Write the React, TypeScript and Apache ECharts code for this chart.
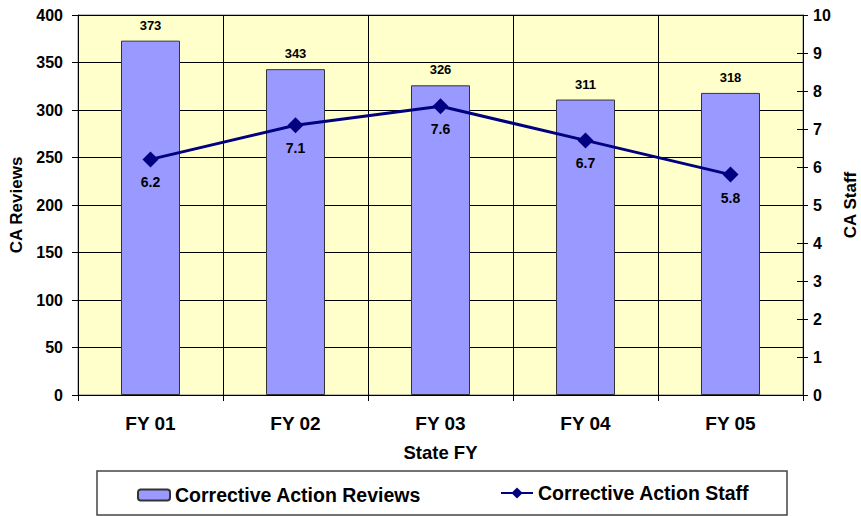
import React, { useEffect, useRef } from "react";
import * as echarts from "echarts";

const categories = ["FY 01", "FY 02", "FY 03", "FY 04", "FY 05"];
const reviews = [373, 343, 326, 311, 318];
const staff = [6.2, 7.1, 7.6, 6.7, 5.8];
const reviewsName = "Corrective Action Reviews";
const staffName = "Corrective Action Staff";

const FONT = "'Liberation Sans', Arial, sans-serif";

export default function App() {
  const ref = useRef<HTMLDivElement>(null);
  useEffect(() => {
    if (!ref.current) return;
    const chart = echarts.init(ref.current, undefined, { renderer: "svg" });
    const option: any = {
      animation: false,
      textStyle: { fontFamily: FONT, color: "#000" },
      grid: {
        left: 78,
        right: 58,
        top: 15,
        bottom: 121,
        containLabel: false,
        outerBoundsMode: "none",
        show: true,
        backgroundColor: "#FFFFCC",
        borderColor: "#808080",
        borderWidth: 1,
      },
      graphic: [
        {
          type: "rect",
          shape: { x: 97, y: 471, width: 690, height: 44 },
          style: { fill: "#fff", stroke: "#444", lineWidth: 1.5 },
          z: -1,
        },
      ],
      legend: [
        {
          data: [reviewsName],
          left: 137,
          top: 485,
          padding: 0,
          itemWidth: 32,
          itemHeight: 11,
          textStyle: { fontFamily: FONT, fontSize: 19.5, fontWeight: "bold", color: "#000" },
        },
        {
          data: [staffName],
          left: 500,
          top: 483,
          padding: 0,
          itemWidth: 32,
          itemHeight: 14,
          textStyle: { fontFamily: FONT, fontSize: 19.5, fontWeight: "bold", color: "#000" },
        },
      ],
      xAxis: {
        type: "category",
        data: categories,
        name: "State FY",
        nameLocation: "middle",
        nameGap: 48,
        nameTextStyle: { fontFamily: FONT, fontSize: 18.5, fontWeight: "bold", color: "#000" },
        axisLine: { lineStyle: { color: "#000", width: 1 } },
        axisTick: { show: true, length: 6, lineStyle: { color: "#000" } },
        axisLabel: { fontFamily: FONT, fontSize: 19, fontWeight: "bold", color: "#000", margin: 19 },
        splitLine: { show: true, lineStyle: { color: "#000", width: 1 } },
      },
      yAxis: [
        {
          type: "value",
          min: 0,
          max: 400,
          interval: 50,
          position: "left",
          name: "CA Reviews",
          nameLocation: "middle",
          nameRotate: 90,
          nameGap: 52,
          nameTextStyle: { fontFamily: FONT, fontSize: 17, fontWeight: "bold", color: "#000" },
          axisLine: { show: true, lineStyle: { color: "#000", width: 1 } },
          axisTick: { show: true, length: 6, lineStyle: { color: "#000" } },
          axisLabel: { fontFamily: FONT, fontSize: 16, fontWeight: "bold", color: "#000", margin: 15 },
          splitLine: { show: true, lineStyle: { color: "#000", width: 1 } },
        },
        {
          type: "value",
          min: 0,
          max: 10,
          interval: 1,
          position: "right",
          name: "CA Staff",
          nameLocation: "middle",
          nameRotate: 90,
          nameGap: 39,
          nameTextStyle: { fontFamily: FONT, fontSize: 17, fontWeight: "bold", color: "#000" },
          axisLine: { show: true, lineStyle: { color: "#000", width: 1 } },
          axisTick: { show: true, length: 5, lineStyle: { color: "#000" } },
          axisLabel: { fontFamily: FONT, fontSize: 16, fontWeight: "bold", color: "#000", margin: 10 },
          splitLine: { show: false },
        },
        {
          type: "value",
          min: 0,
          max: 10,
          interval: 1,
          position: "right",
          axisLine: { show: false },
          axisTick: { show: true, inside: true, length: 6, lineStyle: { color: "#000" } },
          axisLabel: { show: false },
          splitLine: { show: false },
        },
      ],
      series: [
        {
          name: reviewsName,
          type: "bar",
          data: reviews,
          yAxisIndex: 0,
          barWidth: 59,
          itemStyle: { color: "#9999FF", borderColor: "#333", borderWidth: 1 },
          label: {
            show: true,
            position: "top",
            distance: 9,
            fontFamily: FONT,
            fontSize: 13,
            fontWeight: "bold",
            color: "#000",
          },
          z: 2,
        },
        {
          name: staffName,
          type: "line",
          data: staff,
          yAxisIndex: 1,
          symbol: "diamond",
          symbolSize: 16,
          lineStyle: { color: "#000080", width: 3 },
          itemStyle: { color: "#000080" },
          label: {
            show: true,
            position: "bottom",
            distance: 8,
            fontFamily: FONT,
            fontSize: 14,
            fontWeight: "bold",
            color: "#000",
          },
          z: 3,
        },
      ],
    };
    chart.setOption(option);
    return () => chart.dispose();
  }, []);
  return (
    <div
      ref={ref}
      style={{ position: "absolute", left: 0, top: 0, width: 861, height: 516, background: "#fff" }}
    />
  );
}
